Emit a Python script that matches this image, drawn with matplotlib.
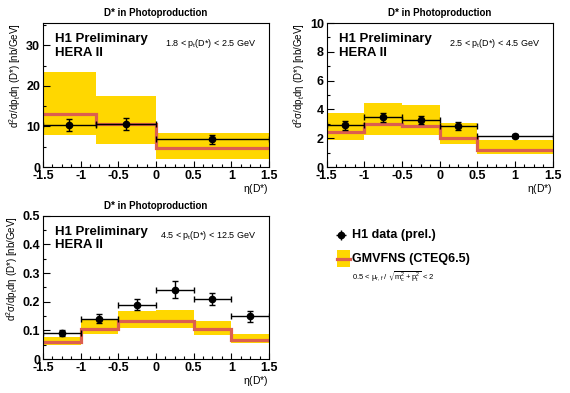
import matplotlib
matplotlib.use("Agg")
import matplotlib.pyplot as plt
import numpy as np
from matplotlib.patches import Rectangle

plt.rcParams['font.family'] = ['Liberation Sans', 'DejaVu Sans']
plt.rcParams['mathtext.default'] = 'regular'

YELLOW = '#ffd700'
RED = '#dc5f4f'

# panel 1: 1.8 < pt < 2.5 GeV
edges1 = [-1.5, -0.8, 0.0, 1.5]
x1 = [-1.15, -0.40, 0.75]
y1 = [10.4, 10.7, 6.8]
e1 = [1.5, 1.5, 1.2]
th1 = [13.1, 10.5, 4.8]
hi1 = [23.5, 17.4, 8.4]
lo1 = [8.0, 5.6, 1.9]

# panel 2: 2.5 < pt < 4.5 GeV
edges2 = [-1.5, -1.0, -0.5, 0.0, 0.5, 1.5]
x2 = [-1.25, -0.75, -0.25, 0.25, 1.0]
y2 = [2.89, 3.46, 3.26, 2.84, 2.15]
e2 = [0.3, 0.3, 0.3, 0.28, 0.15]
th2 = [2.45, 2.96, 2.86, 2.03, 1.20]
hi2 = [3.72, 4.46, 4.34, 3.03, 1.85]
lo2 = [1.87, 2.22, 2.22, 1.57, 0.88]

# panel 3: 4.5 < pt < 12.5 GeV
edges3 = [-1.5, -1.0, -0.5, 0.0, 0.5, 1.0, 1.5]
x3 = [-1.25, -0.75, -0.25, 0.25, 0.75, 1.25]
y3 = [0.0895, 0.141, 0.190, 0.242, 0.210, 0.149]
e3 = [0.010, 0.015, 0.020, 0.030, 0.022, 0.020]
th3 = [0.058, 0.103, 0.133, 0.133, 0.103, 0.066]
hi3 = [0.077, 0.136, 0.167, 0.171, 0.133, 0.087]
lo3 = [0.049, 0.087, 0.109, 0.109, 0.085, 0.057]

panels = [
    ([0.0754, 0.575, 0.3965, 0.3664], edges1, x1, y1, e1, th1, hi1, lo1,
     35.5, 10, 5, r'1.8 < p$_t$(D*) < 2.5 GeV'),
    ([0.573, 0.575, 0.3965, 0.3664], edges2, x2, y2, e2, th2, hi2, lo2,
     10, 2, 1, r'2.5 < p$_t$(D*) < 4.5 GeV'),
    ([0.0754, 0.0865, 0.3965, 0.3646], edges3, x3, y3, e3, th3, hi3, lo3,
     0.5, 0.1, 0.05, r'4.5 < p$_t$(D*) < 12.5 GeV'),
]

fig = plt.figure(figsize=(5.7, 3.93), dpi=100)

for pos, edges, x, y, e, th, hi, lo, ymax, major, minor, ptlab in panels:
    ax = fig.add_axes(pos)
    edges = np.array(edges)
    for i in range(len(th)):
        ax.fill_between([edges[i], edges[i + 1]], lo[i], hi[i], color=YELLOW, lw=0, zorder=1)
    ax.stairs(th, edges, baseline=None, color=RED, lw=2.3, zorder=2)
    xerr_lo = [xi - edges[np.searchsorted(edges, xi) - 1] for xi in x]
    xerr_hi = [edges[np.searchsorted(edges, xi)] - xi for xi in x]
    ax.errorbar(x, y, yerr=e, xerr=[xerr_lo, xerr_hi], fmt='o', color='black',
                ms=4.5, lw=1, capsize=2, capthick=1, zorder=3)
    ax.set_xlim(-1.5, 1.5)
    ax.set_ylim(0, ymax)
    ax.set_xticks(np.arange(-1.5, 1.51, 0.5))
    ax.set_xticks(np.arange(-1.5, 1.51, 0.125), minor=True)
    ax.set_yticks(np.arange(0, ymax + 1e-9, major))
    ax.set_yticks(np.arange(0, ymax + 1e-9, minor), minor=True)
    ax.xaxis.set_major_formatter(plt.FuncFormatter(lambda v, p: f'{v:g}'))
    ax.yaxis.set_major_formatter(plt.FuncFormatter(lambda v, p: f'{v:g}'))
    ax.tick_params(which='both', direction='in', top=False, right=False,
                   labelsize=9, pad=2, width=0.8)
    ax.tick_params(axis='y', which='major', length=5)
    ax.tick_params(axis='y', which='minor', length=2.5)
    ax.tick_params(axis='x', which='major', length=4)
    ax.tick_params(axis='x', which='minor', length=2)
    for lab in ax.get_xticklabels() + ax.get_yticklabels():
        lab.set_fontweight('bold')
    for s in ax.spines.values():
        s.set_linewidth(0.8)
    ax.set_title('D* in Photoproduction', fontsize=7, fontweight='bold', pad=5)
    ax.set_xlabel(r'$\eta$(D*)', fontsize=7.5, loc='right', labelpad=0)
    ax.set_ylabel(r'd$^2\sigma$/dp$_t$d$\eta$ (D*) [nb/GeV]', fontsize=7,
                  loc='top', labelpad=2)
    ax.text(0.055, 0.93, 'H1 Preliminary', transform=ax.transAxes, fontsize=9.5,
            fontweight='bold', va='top')
    ax.text(0.055, 0.835, 'HERA II', transform=ax.transAxes, fontsize=9.5,
            fontweight='bold', va='top')
    ax.text(0.945, 0.86, ptlab, transform=ax.transAxes, fontsize=6.5,
            ha='right', va='center')

# legend, placed in figure pixels
leg = fig.add_axes([0, 0, 1, 1], zorder=-1)
leg.set_xlim(0, 570)
leg.set_ylim(393, 0)
leg.axis('off')
leg.errorbar([341], [235], xerr=[[5], [5]], yerr=[[5], [5]], fmt='o', color='black',
             ms=4.5, lw=1)
leg.add_patch(Rectangle((337, 250), 13, 17, facecolor=YELLOW, edgecolor='none'))
leg.plot([337, 350], [259, 259], color=RED, lw=2.3)
leg.text(352, 235, 'H1 data (prel.)', fontsize=9, fontweight='bold', va='center')
leg.text(352, 259, 'GMVFNS (CTEQ6.5)', fontsize=9, fontweight='bold', va='center')
leg.text(352, 277, r'0.5 < $\mu_{r,f}$ / $\sqrt{m_c^2+p_t^2}$ < 2', fontsize=5.5,
         va='center')

fig.savefig('out.png', dpi=100)
